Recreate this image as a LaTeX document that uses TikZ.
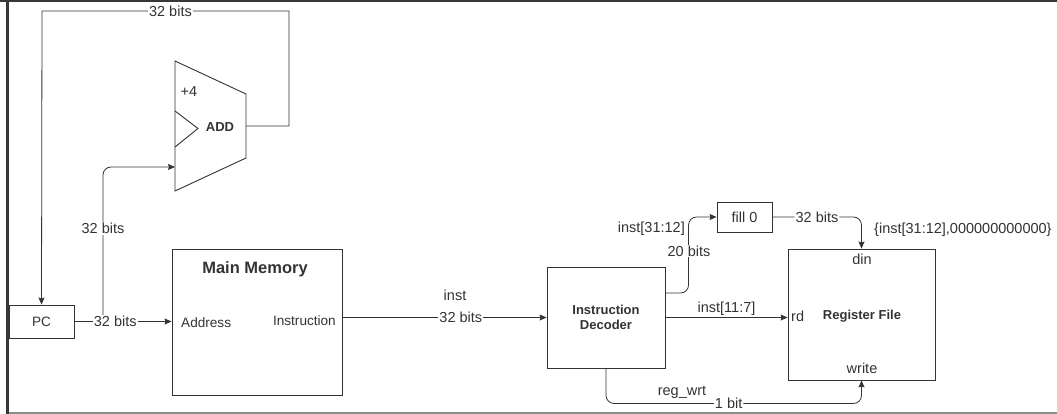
\documentclass[tikz,border=0pt]{standalone}
\usepackage{fontspec}
\setmainfont{Liberation Sans}
\usepackage{xcolor}
\usetikzlibrary{arrows.meta}
\definecolor{ink}{HTML}{333333}

\begin{document}
\begin{tikzpicture}[x=1pt,y=-1pt, font=\fontsize{14.5}{16}\selectfont, text=ink,
  blk/.style={draw=ink, line width=0.9pt, inner sep=0pt},
  wire/.style={draw=ink, line width=0.8pt},
  tip/.style={-{Stealth[length=7pt,width=6pt,inset=1pt]}},
  lbl/.style={fill=white, inner sep=1pt},
  sm/.style={font=\fontsize{13.6}{15}\selectfont},
  hd/.style={font=\bfseries\fontsize{13}{15}\selectfont}]
 \useasboundingbox (0,0) rectangle (1057,414);
 \fill[white] (0,0) rectangle (1057,414);
 \fill[black!78] (0,0) rectangle (1057,2.5);
 \fill[black!78] (6,0) rectangle (9,414);
 \fill[black!45] (9,411.8) rectangle (1057,413.5);
 \coordinate (A1) at (175,61);
 \coordinate (A2) at (246,94);
 \coordinate (A3) at (246,158);
 \coordinate (A4) at (175,191);
 \coordinate (addin) at (175,167);
 \coordinate (addout) at (246,126);
 \coordinate (fbR) at (289,11);
 \coordinate (fbL) at (42,11);
 \coordinate (split) at (103,321.5);
 \draw[blk] (A1)--(A2)--(A3)--(A4)--cycle;
 \draw[blk] (175,111)--(198,128.5)--(175,147);
 \node[font=\fontsize{14.5}{16}\selectfont] at (189,92) {+4};
 \node[hd] at (220,127) {ADD};
 \node[blk, sm, minimum width=65, minimum height=33] (pc) at (41.5,321.5) {PC};
 \node[blk, minimum width=170, minimum height=146] (mm) at (257,322) {};
 \node[font=\bfseries\fontsize{16.5}{18}\selectfont] (mmt) at (255,269) {Main Memory};
 \node[sm, anchor=west, inner sep=0pt] (addr) at (181,322.5) {Address};
 \node[sm, anchor=east, inner sep=0pt] (ins) at (336,321) {Instruction};
 \node[blk, hd, align=center, minimum width=118, minimum height=101] (dec) at (606,317.5)
   {Instruction\\Decoder};
 \node[blk, minimum width=55, minimum height=30] (fill) at (744.5,217) {fill 0};
 \node[blk, minimum width=147, minimum height=131] (rf) at (861.5,314.5) {};
 \node[hd] (rft) at (862,316) {Register File};
 \node (din) at (862,259) {din};
 \node[anchor=west, inner sep=0pt] (rd) at (791,316) {rd};
 \node (wr) at (862,368) {write};
 \draw[wire, tip, rounded corners=8pt] (split) |- node[lbl, pos=0.3] {32 bits} (addin);
 \draw[wire, tip] (pc.east) -- node[lbl, pos=0.42] {32 bits} (mm.west |- pc.east);
 \draw[wire, tip] (addout) -| (fbR) -- node[lbl, pos=0.48] {32 bits} (fbL) -- (pc.north);
 \draw[wire, tip] (mm.east |- dec.west) -- node[lbl, pos=0.58] {32 bits} (dec.west);
 \node (inst) at (455,295) {inst};
 \draw[wire, tip, rounded corners=8pt] (dec.east |- 0,293) -| ([xshift=-28pt]fill.west) -- (fill.west);
 \node[lbl] (b20) at (689,251) {20 bits};
 \node[anchor=east, inner sep=0pt] (i3112) at (685,229) {inst[31:12]};
 \draw[wire, tip, rounded corners=8pt] (fill.east) -| node[lbl, pos=0.25] {32 bits} (rf.north);
 \node[anchor=west, inner sep=0pt] (cat) at (874,230) {\{inst[31:12],000000000000\}};
 \draw[wire, tip] (dec.east) -- node[above, inner sep=2pt] {inst[11:7]} (dec.east -| rf.west);
 \draw[wire, tip, rounded corners=8pt] (dec.south) |- node[lbl, pos=0.74] {1 bit}
   ([yshift=-23pt]rf.south) -- (rf.south);
 \node (rw) at (682,392) {reg\_wrt};
\end{tikzpicture}
\end{document}
